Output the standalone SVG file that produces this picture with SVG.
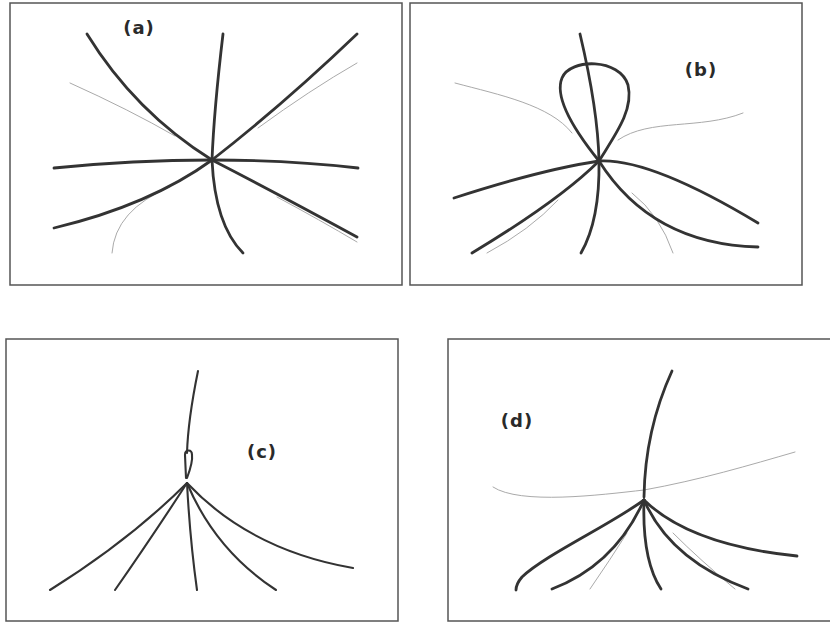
<svg xmlns="http://www.w3.org/2000/svg" width="830" height="622" viewBox="0 0 830 622">
<style>
.frame{fill:#fff;stroke:#555;stroke-width:1.5}
.d{fill:none;stroke:#333;stroke-width:2.8;stroke-linecap:round}
.dc{fill:none;stroke:#333;stroke-width:2.1;stroke-linecap:round}
.g{fill:none;stroke:#aaa;stroke-width:1;stroke-linecap:round}
.lbl{font-family:"DejaVu Sans",Verdana,sans-serif;font-weight:bold;font-size:18px;fill:#2a2a2a;text-anchor:middle;letter-spacing:1px}
</style>
<rect width="830" height="622" fill="#fff"/>
<g id="panel-a">
<rect class="frame" x="10" y="3" width="392" height="282"/>
<text class="lbl" x="139" y="34">(a)</text>
<g id="lines-a">
<path class="g" d="M70,83 Q130,110 175,136"/>
<path class="g" d="M357,63 Q310,90 258,128"/>
<path class="g" d="M112,253 Q115,210 170,187"/>
<path class="g" d="M357,242 Q320,220 277,197"/>
<path class="d" d="M87,34 Q135,112 212,160"/>
<path class="d" d="M223,34 Q214,110 212,160"/>
<path class="d" d="M357,34 Q285,103 212,160"/>
<path class="d" d="M54,168 Q133,160 212,160"/>
<path class="d" d="M212,160 Q290,160 358,168"/>
<path class="d" d="M54,228 Q150,205 212,160"/>
<path class="d" d="M212,160 Q215,225 243,253"/>
<path class="d" d="M212,160 Q280,195 357,237"/>
</g>
</g>
<g id="panel-b">
<rect class="frame" x="410" y="3" width="392" height="282"/>
<text class="lbl" x="701" y="76">(b)</text>
<g id="lines-b">
<path class="g" d="M455,83 C500,95 550,105 572,133"/>
<path class="g" d="M743,113 C700,130 650,118 618,140"/>
<path class="g" d="M487,253 Q530,230 558,200"/>
<path class="g" d="M673,253 Q660,215 632,193"/>
<path class="d" d="M580,34 Q598,110 599,161 Q600,220 581,253"/>
<path class="d" d="M599,161 C570,125 555,95 562,78 C570,58 620,58 628,85 C634,110 615,135 599,161"/>
<path class="d" d="M454,198 Q540,170 599,161"/>
<path class="d" d="M472,253 Q560,200 599,161"/>
<path class="d" d="M599,161 Q650,158 758,223"/>
<path class="d" d="M599,161 C630,210 680,245 758,247"/>
</g>
</g>
<g id="panel-c">
<rect class="frame" x="6" y="339" width="392" height="282"/>
<text class="lbl" x="262" y="458">(c)</text>
<g id="lines-c">
<path class="dc" d="M198,371 Q188,420 187,453"/>
<path class="dc" d="M186,478 L185,455 C185,449 192,449 192,455 C193,462 190,470 187,478"/>
<path class="dc" d="M187,483 Q130,540 50,590"/>
<path class="dc" d="M187,483 Q150,540 115,590"/>
<path class="dc" d="M187,483 Q190,540 197,590"/>
<path class="dc" d="M187,483 Q215,550 276,590"/>
<path class="dc" d="M187,483 Q250,550 353,568"/>
</g>
</g>
<g id="panel-d">
<rect class="frame" x="448" y="339" width="390" height="282"/>
<text class="lbl" x="517" y="427">(d)</text>
<g id="lines-d">
<path class="g" d="M493,487 C520,505 600,495 644,490 C700,480 750,465 795,452"/>
<path class="g" d="M590,589 Q610,560 627,533"/>
<path class="g" d="M735,589 Q700,560 673,533"/>
<path class="d" d="M672,371 Q645,430 644,497"/>
<path class="d" d="M644,500 C610,525 545,555 522,577 Q516,584 516,590"/>
<path class="d" d="M644,500 Q615,565 552,589"/>
<path class="d" d="M644,500 Q642,560 661,589"/>
<path class="d" d="M644,500 Q670,560 748,589"/>
<path class="d" d="M644,500 Q690,545 797,556"/>
</g>
</g>
</svg>
